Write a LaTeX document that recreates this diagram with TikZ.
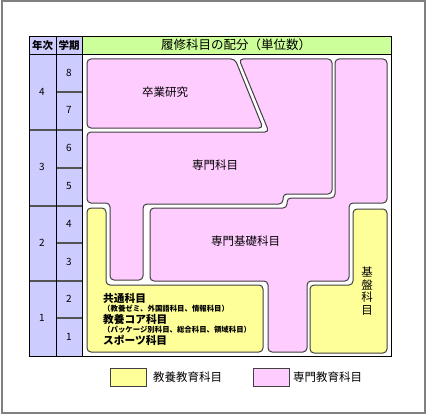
\documentclass[tikz,border=0pt]{standalone}
\usepackage{fontspec}
\setmainfont{Noto Sans CJK JP}
\definecolor{pinkf}{HTML}{FFCCFF}
\definecolor{yelf}{HTML}{FFFF99}
\definecolor{lavf}{HTML}{CCCCFF}
\definecolor{grnf}{HTML}{CCFF99}
\definecolor{edge}{HTML}{404040}
\definecolor{frame}{HTML}{808080}
\tikzset{
  blob/.style={draw=edge, line width=1pt, rounded corners=4pt},
  pinkblob/.style={blob, fill=pinkf},
  yelblob/.style={blob, fill=yelf},
  yearline/.style={draw=edge!90, line width=1.3pt},
  gridline/.style={draw=black, line width=0.9pt},
  lbl/.style={inner sep=0pt, font=\fontsize{11.5}{13}\selectfont},
  num/.style={inner sep=0pt, font=\fontsize{10}{12}\selectfont},
  hd/.style={inner sep=0pt, font=\fontsize{10.5}{12}\selectfont\bfseries},
  bigb/.style={inner sep=0pt, anchor=west, font=\fontsize{10.7}{12}\selectfont\bfseries},
  smallb/.style={inner sep=0pt, anchor=west, font=\fontsize{7.4}{8}\selectfont\bfseries},
  legbox/.style={draw=edge, line width=1pt},
}
\begin{document}
\begin{tikzpicture}[x=1pt,y=-1pt]
\useasboundingbox (0,0) rectangle (427,414);
% outer frame
\draw[frame, line width=2pt] (1.5,1.5) rectangle (425,412.5);
% table
\fill[lavf] (29,36) rectangle (82,356);
\fill[grnf] (82,36) rectangle (391,54);
\fill[white] (82,54) rectangle (391,356);
\foreach \y in {130,206,281} \draw[yearline] (29,\y) -- (82,\y);
\foreach \y in {92,168,243,318} \draw[yearline] (56,\y) -- (82,\y);
\draw[gridline] (29,54) -- (391,54);
\draw[gridline] (56,36) -- (56,356);
\draw[gridline] (82,36) -- (82,356);
\draw[gridline] (29,36) rectangle (391,356);
% header texts
\node[hd] (hy) at (42.5,45) {年次};
\node[hd] (hs) at (69,45) {学期};
\node[inner sep=0pt, font=\fontsize{12.5}{14}\selectfont] (ht) at (236,45) {履修科目の配分（単位数）};
% numbers
\node[num] (y4) at (42,92) {4};
\node[num] (y3) at (42,167) {3};
\node[num] (y2) at (42,243) {2};
\node[num] (y1) at (42,318) {1};
\node[num] (s8) at (69,73) {8};
\node[num] (s7) at (69,110) {7};
\node[num] (s6) at (69,148) {6};
\node[num] (s5) at (69,186) {5};
\node[num] (s4) at (69,224) {4};
\node[num] (s3) at (69,262) {3};
\node[num] (s2) at (69,299) {2};
\node[num] (s1) at (69,337) {1};
% shapes
\path[pinkblob] (87,59) -- (235,59) -- (263,128) -- (87,128) -- cycle;
\path[pinkblob] (87,132) -- (269,132) -- (239,59) -- (332,59) -- (332,194) -- (283,194) -- (283,204) -- (143,204) -- (143,280) -- (110,280) -- (110,203) -- (87,203) -- cycle;
\path[pinkblob] (335,59) -- (387,59) -- (387,203) -- (349,203) -- (349,281) -- (307,281) -- (307,352) -- (268,352) -- (268,281) -- (150,281) -- (150,208) -- (287,208) -- (287,198) -- (335,198) -- cycle;
\path[yelblob] (87,208) -- (106,208) -- (106,285) -- (263,285) -- (263,352) -- (87,352) -- cycle;
\path[yelblob] (353,209) -- (387,209) -- (387,353) -- (310,353) -- (310,285) -- (353,285) -- cycle;
% shape labels
\node[lbl] (sotsu) at (165,92) {卒業研究};
\node[lbl] (senmon) at (215,165) {専門科目};
\node[lbl] (kiso) at (245.5,241) {専門基礎科目};
\node[lbl, align=center, font=\fontsize{11.5}{12.5}\selectfont] (kiban) at (367,291) {基\\盤\\科\\目};
\node[bigb] (t1) at (103,298) {共通科目};
\node[smallb] (t2) at (103,309) {（教養ゼミ、外国語科目、情報科目）};
\node[bigb] (t3) at (103,319) {教養コア科目};
\node[smallb] (t4) at (103,329.5) {（パッケージ別科目、総合科目、領域科目）};
\node[bigb] (t5) at (103,340) {スポーツ科目};
% legend
\draw[legbox, fill=yelf] (110,368) rectangle (146,386);
\node[lbl, anchor=west] (lg1) at (153,377) {教養教育科目};
\draw[legbox, fill=pinkf] (253,368) rectangle (289,386);
\node[lbl, anchor=west] (lg2) at (293,377) {専門教育科目};
\end{tikzpicture}
\end{document}
